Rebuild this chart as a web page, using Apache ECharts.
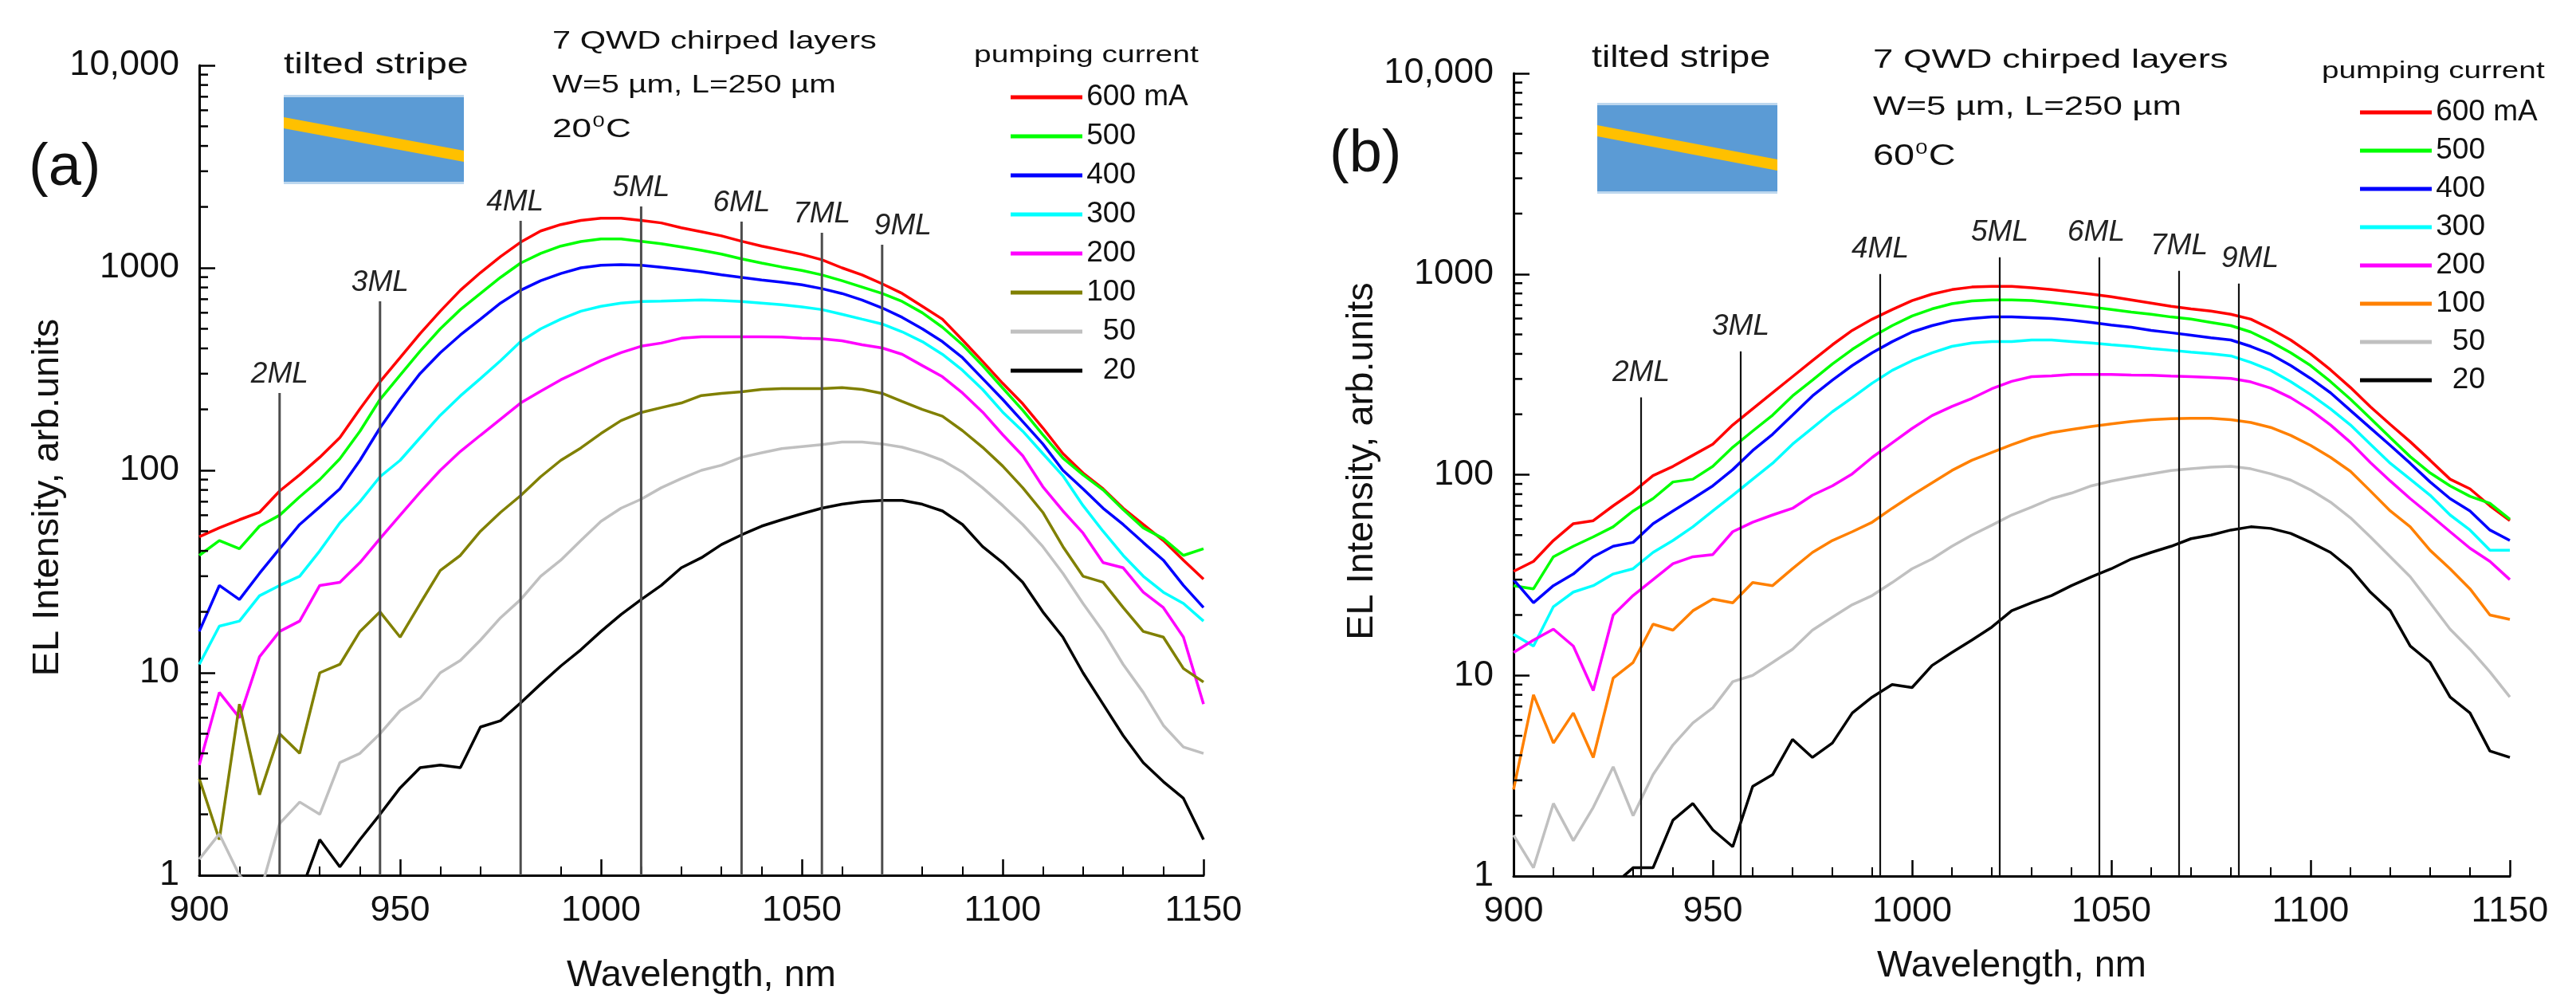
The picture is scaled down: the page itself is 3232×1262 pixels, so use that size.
<!DOCTYPE html>
<html>
<head>
<meta charset="utf-8">
<script src="https://cdn.jsdelivr.net/npm/echarts@6/dist/echarts.min.js"></script>
<style>
  html, body { margin: 0; padding: 0; background: #fff; }
  #main { width: 3232px; height: 1262px; }
</style>
</head>
<body>
<div id="main"></div>
<script>
// wavelength grid, nm
var wavelength = [900, 905, 910, 915, 920, 925, 930, 935, 940, 945, 950, 955, 960, 965, 970, 975, 980, 985, 990, 995,
  1000, 1005, 1010, 1015, 1020, 1025, 1030, 1035, 1040, 1045, 1050, 1055, 1060, 1065, 1070, 1075, 1080, 1085, 1090, 1095,
  1100, 1105, 1110, 1115, 1120, 1125, 1130, 1135, 1140, 1145, 1150];

var currents = ['600', '500', '400', '300', '200', '100', '50', '20'];

// (a) 20 C
var a600 = [47, 52, 57, 62, 79, 95, 116, 145, 201, 274, 360, 474, 611, 775, 947, 1136, 1339, 1521, 1636, 1715, 1759, 1759, 1715, 1667, 1578, 1507, 1439, 1353, 1281, 1222, 1165, 1096, 1000, 923, 834, 747, 646, 558, 440, 345, 269, 213, 162, 121, 97, 81, 65, 54, 45, 36, 29];
var a500 = [38, 45, 41, 53, 60, 74, 90, 114, 156, 224, 295, 388, 500, 622, 747, 897, 1056, 1178, 1281, 1349, 1388, 1388, 1353, 1315, 1268, 1220, 1169, 1107, 1056, 1010, 971, 923, 864, 804, 747, 682, 600, 509, 417, 329, 255, 198, 150, 115, 95, 80, 64, 52, 46, 38, 41];
var a400 = [16, 27, 23, 31, 41, 54, 66, 81, 112, 162, 224, 301, 381, 466, 558, 670, 775, 864, 937, 1000, 1030, 1037, 1030, 1007, 982, 955, 923, 897, 871, 849, 825, 789, 747, 694, 634, 569, 500, 432, 360, 284, 224, 174, 135, 100, 81, 65, 54, 44, 36, 27, 21];
var a300 = [11, 17, 18, 24, 27, 30, 40, 55, 70, 93, 112, 145, 187, 233, 284, 348, 432, 500, 558, 611, 646, 670, 682, 685, 690, 694, 690, 682, 670, 658, 641, 622, 590, 558, 528, 483, 432, 374, 312, 251, 194, 156, 121, 94, 67, 50, 38, 30, 25, 22, 18];
var a200 = [3.5, 8, 6, 12, 16, 18, 27, 28, 35, 46, 60, 78, 100, 124, 149, 179, 215, 246, 280, 312, 348, 381, 410, 425, 449, 457, 457, 457, 457, 455, 449, 446, 436, 417, 402, 374, 329, 290, 241, 194, 150, 118, 83, 63, 49, 35, 33, 25, 21, 15, 7];
var a100 = [3, 1.5, 7, 2.5, 5, 4, 10, 11, 16, 20, 15, 22, 32, 38, 50, 62, 75, 93, 112, 129, 152, 176, 193, 204, 215, 234, 240, 244, 251, 253, 253, 253, 256, 251, 240, 219, 200, 185, 157, 130, 105, 82, 62, 42, 30, 28, 21, 16, 15, 10.5, 9];
var a50 = [1.2, 1.6, 1.0, 0.8, 1.8, 2.3, 2.0, 3.6, 4.0, 5.0, 6.5, 7.5, 10, 11.5, 14.5, 18.7, 23, 30, 36, 45, 56, 65, 72, 82, 91, 100, 106, 116, 122, 128, 131, 134, 138, 138, 135, 130, 122, 112, 98, 82, 67, 54, 42, 31, 22, 16, 11, 8, 5.5, 4.3, 4];
var a20 = [0.5, 0.5, 0.5, 0.5, 0.6, 0.8, 1.5, 1.1, 1.5, 2.0, 2.7, 3.4, 3.5, 3.4, 5.4, 5.8, 7.1, 8.8, 10.8, 13, 16, 19.4, 23, 27, 33, 37, 43, 48, 53, 57, 61, 65, 68, 70, 71, 71, 68, 63, 54, 42, 35, 28, 20, 15, 10, 7, 4.9, 3.6, 2.9, 2.4, 1.5];

// (b) 60 C
var b600 = [33, 37, 47, 57, 59, 70, 82, 99, 110, 125, 142, 177, 213, 256, 308, 370, 444, 524, 596, 665, 737, 794, 836, 861, 867, 867, 854, 836, 815, 794, 771, 743, 716, 690, 670, 653, 630, 596, 533, 469, 400, 333, 272, 218, 178, 146, 118, 95, 85, 70, 59];
var b500 = [28, 27, 39, 44, 49, 55, 66, 76, 92, 95, 110, 137, 165, 198, 247, 296, 356, 421, 487, 553, 618, 670, 711, 735, 743, 743, 737, 721, 703, 685, 666, 646, 630, 611, 596, 574, 553, 514, 460, 405, 350, 291, 238, 191, 153, 123, 102, 88, 78, 72, 60];
var b400 = [30, 23, 28, 32, 39, 44, 46, 57, 66, 76, 88, 106, 132, 159, 198, 247, 296, 350, 405, 460, 514, 553, 585, 600, 611, 611, 606, 600, 589, 574, 557, 543, 524, 510, 496, 481, 469, 436, 398, 350, 302, 256, 209, 171, 140, 114, 92, 76, 66, 53, 47];
var b300 = [16, 14, 22, 26, 28, 32, 34, 41, 47, 55, 66, 79, 95, 114, 142, 171, 206, 242, 286, 331, 370, 405, 436, 453, 461, 461, 469, 469, 461, 453, 444, 436, 425, 417, 408, 401, 391, 363, 331, 291, 251, 213, 177, 142, 114, 95, 79, 63, 53, 42, 42];
var b200 = [13, 15, 17, 14, 8.4, 20, 25, 30, 36, 39, 40, 52, 58, 63, 68, 79, 88, 101, 122, 144, 170, 197, 219, 240, 268, 292, 308, 311, 316, 316, 316, 314, 313, 310, 308, 305, 302, 290, 270, 242, 210, 177, 145, 115, 93, 76, 63, 52, 43, 37, 30];
var b100 = [2.7, 8, 4.6, 6.5, 3.9, 9.7, 11.6, 18, 16.8, 21, 24, 23, 29, 28, 34, 41, 47, 52, 58, 68, 79, 91, 105, 118, 129, 141, 153, 162, 168, 174, 179, 184, 188, 190, 191, 191, 188, 182, 172, 157, 140, 122, 104, 83, 66, 55, 42, 34, 27, 20, 19];
var b50 = [1.6, 1.1, 2.3, 1.5, 2.2, 3.5, 2.0, 3.2, 4.5, 5.8, 6.9, 9.3, 10, 11.6, 13.5, 16.8, 19.5, 22.5, 25, 29, 34, 38, 44, 50, 56, 63, 69, 76, 81, 88, 93, 97, 101, 105, 107, 109, 110, 107, 101, 94, 84, 73, 61, 49, 39, 31, 23, 17, 13.5, 10.4, 7.8];
var b20 = [0.5, 0.5, 0.5, 0.5, 0.8, 0.9, 1.1, 1.1, 1.9, 2.3, 1.7, 1.4, 2.8, 3.2, 4.8, 3.9, 4.6, 6.5, 7.8, 9.0, 8.7, 11.2, 13, 15, 17.4, 21, 23, 25, 28, 31, 34, 38, 41, 44, 48, 50, 53, 55, 54, 51, 46, 41, 34, 26, 21, 14, 11.6, 7.8, 6.5, 4.2, 3.9];

// monolayer markers: wavelength and top of the vertical line
var mlNames = ['2ML', '3ML', '4ML', '5ML', '6ML', '7ML', '9ML'];
var mlWaveA = [920, 945, 980, 1010, 1035, 1055, 1070];
var mlTopA = [241, 684, 1706, 2011, 1690, 1489, 1300];
var mlWaveB = [932, 957, 992, 1022, 1047, 1067, 1082];
var mlTopB = [243, 412, 1000, 1211, 1211, 1038, 896];

var yMinorTicks = [2, 3, 4, 5, 6, 7, 8, 9, 20, 30, 40, 50, 60, 70, 80, 90,
  200, 300, 400, 500, 600, 700, 800, 900, 2000, 3000, 4000, 5000, 6000, 7000, 8000, 9000];

var colorsA = ['#ff0000', '#00ff00', '#0000ff', '#00ffff', '#ff00ff', '#808000', '#c0c0c0', '#000000'];
var colorsB = ['#ff0000', '#00ff00', '#0000ff', '#00ffff', '#ff00ff', '#ff8000', '#c0c0c0', '#000000'];

var FONT = 'Arial, "Liberation Sans", sans-serif';
var X_MIN = 900, X_MAX = 1150, Y_MIN = 1, Y_MAX = 10000;

var chart = echarts.init(document.getElementById('main'));

function curveSeries(prefix, arrays, colors, idx) {
  return currents.map(function (c, i) {
    return {
      name: prefix + c,
      type: 'line',
      xAxisIndex: idx,
      yAxisIndex: idx,
      showSymbol: false,
      symbol: 'none',
      clip: true,
      animation: false,
      lineStyle: { color: colors[i], width: 3.5 },
      itemStyle: { color: colors[i] },
      data: wavelength.map(function (w, k) { return [w, arrays[i][k]]; })
    };
  });
}

// vertical ML lines with italic labels
function mlSeries(waves, tops, idx, labelShift, gap, lineColor, lineWidth) {
  return {
    type: 'custom',
    xAxisIndex: idx,
    yAxisIndex: idx,
    silent: true,
    clip: false,
    z: 20,
    encode: { x: 0, y: 1 },
    data: waves.map(function (w, i) { return [w, tops[i]]; }),
    renderItem: function (params, api) {
      var name = mlNames[params.dataIndex];
      var p0 = api.coord([api.value(0), Y_MIN]);
      var p1 = api.coord([api.value(0), api.value(1)]);
      return {
        type: 'group',
        children: [
          { type: 'line', shape: { x1: p0[0], y1: p0[1], x2: p1[0], y2: p1[1] },
            style: { stroke: lineColor, lineWidth: lineWidth } },
          { type: 'text', x: p1[0] + (labelShift[name] || 0), y: p1[1] - gap,
            style: { text: name, fontSize: 37, fontStyle: 'italic', fontFamily: FONT, fill: '#222',
                     align: 'center', verticalAlign: 'middle' } }
        ]
      };
    }
  };
}

// log minor ticks (2..9 per decade), drawn inward from the y axis
function minorTickSeries(idx) {
  return {
    type: 'custom',
    xAxisIndex: idx,
    yAxisIndex: idx,
    silent: true,
    clip: false,
    z: 30,
    encode: { x: 0, y: 1 },
    data: yMinorTicks.map(function (v) { return [X_MIN, v]; }),
    renderItem: function (params, api) {
      var p = api.coord([api.value(0), api.value(1)]);
      return { type: 'line', shape: { x1: p[0], y1: p[1], x2: p[0] + 11, y2: p[1] },
               style: { stroke: '#000', lineWidth: 2.5 } };
    }
  };
}

function xAxisFor(idx, gap) {
  return {
    type: 'value', gridIndex: idx, min: X_MIN, max: X_MAX, interval: 50,
    name: 'Wavelength, nm', nameLocation: 'middle', nameGap: gap,
    nameTextStyle: { fontSize: 47, fontFamily: FONT, color: '#111' },
    axisLine: { onZero: false, lineStyle: { color: '#000', width: 3 } },
    axisTick: { inside: true, length: 20, lineStyle: { color: '#000', width: 2.5 } },
    minorTick: { show: true, splitNumber: 5, length: 11, lineStyle: { color: '#000', width: 2 } },
    splitLine: { show: false },
    axisLabel: { fontSize: 45, fontFamily: FONT, color: '#111', margin: 22,
                 formatter: function (v) { return String(v); } }
  };
}

function yAxisFor(idx, gap, pad) {
  return {
    type: 'log', logBase: 10, gridIndex: idx, min: Y_MIN, max: Y_MAX,
    name: 'EL Intensity, arb.units', nameLocation: 'middle', nameGap: gap,
    nameTextStyle: { fontSize: 47, fontFamily: FONT, color: '#111', padding: pad },
    axisLine: { show: true, lineStyle: { color: '#000', width: 3 } },
    axisTick: { show: true, inside: true, length: 20, lineStyle: { color: '#000', width: 2.5 } },
    splitLine: { show: false },
    axisLabel: { fontSize: 45, fontFamily: FONT, color: '#111', margin: 25,
                 formatter: function (v) { return v >= 10000 ? '10,000' : String(v); } }
  };
}

function legendFor(prefix, left, top, gap) {
  return {
    orient: 'vertical', left: left, top: top, itemWidth: 90, itemHeight: 5, itemGap: gap,
    icon: 'rect', selectedMode: false,
    data: currents.map(function (c) { return prefix + c; }),
    formatter: function (name) {
      var c = name.slice(1);
      return c === '600' ? '{n|600} mA' : '{n|' + c + '}';
    },
    textStyle: { fontSize: 37, fontFamily: FONT, color: '#111', lineHeight: 40,
                 rich: { n: { fontSize: 37, fontFamily: FONT, color: '#111', width: 62, align: 'right' } } }
  };
}

function label(x, y, text, size, sx, rich) {
  var st = { text: text, fontSize: size, fontFamily: FONT, fill: '#111', align: 'left', verticalAlign: 'middle' };
  if (rich) st.rich = rich;
  return { type: 'text', x: x, y: y, scaleX: sx, silent: true, style: st };
}

function stripePicture(x, y, w, h, yl, yr) {
  return [
    { type: 'rect', shape: { x: x, y: y, width: w, height: h }, style: { fill: '#5b9bd5' } },
    { type: 'rect', shape: { x: x, y: y - 2, width: w, height: 3 }, style: { fill: '#bdd7ee' } },
    { type: 'rect', shape: { x: x, y: y + h - 1, width: w, height: 3 }, style: { fill: '#bdd7ee' } },
    { type: 'polygon', shape: { points: [[x, yl], [x + w, yr], [x + w, yr + 14], [x, yl + 14]] },
      style: { fill: '#ffc000' } }
  ];
}

var supRich = { s: { fontSize: 21, fontFamily: FONT, fill: '#111', verticalAlign: 'bottom', padding: [0, 1, 20, 1] } };

var graphics = [].concat(
  [
    label(36, 212, '(a)', 74, 1),
    label(356, 82, 'tilted stripe', 36, 1.33),
    label(693, 52, '7 QWD chirped layers', 32, 1.3),
    label(693, 107, 'W=5 \u00b5m, L=250 \u00b5m', 32, 1.26),
    label(693, 163, '20{s|0}C', 34, 1.3, supRich),
    label(1222, 70, 'pumping current', 30, 1.3),
    label(1668, 195, '(b)', 74, 1),
    label(1997, 74, 'tilted stripe', 38, 1.22),
    label(2350, 76, '7 QWD chirped layers', 34, 1.34),
    label(2350, 135, 'W=5 \u00b5m, L=250 \u00b5m', 34, 1.29),
    label(2350, 197, '60{s|0}C', 36, 1.3, supRich),
    label(2913, 90, 'pumping current', 30, 1.29)
  ],
  stripePicture(356, 121, 226, 108, 147, 189),
  stripePicture(2004, 131, 226, 110, 157, 200)
);

var option = {
  backgroundColor: '#fff',
  animation: false,
  textStyle: { fontFamily: FONT },
  grid: [
    { left: 250, top: 82, width: 1260, height: 1016 },
    { left: 1899, top: 92, width: 1250, height: 1007 }
  ],
  xAxis: [xAxisFor(0, 103), xAxisFor(1, 90)],
  yAxis: [yAxisFor(0, 150, [0, 68, 0, 0]), yAxisFor(1, 131, [0, 0, 0, 34])],
  legend: [legendFor('a', 1263, 97, 9), legendFor('b', 2956, 116, 8)],
  graphic: graphics,
  series: [].concat(
    curveSeries('a', [a600, a500, a400, a300, a200, a100, a50, a20], colorsA, 0),
    curveSeries('b', [b600, b500, b400, b300, b200, b100, b50, b20], colorsB, 1),
    [
      mlSeries(mlWaveA, mlTopA, 0, { '4ML': -7, '9ML': 26 }, 23, '#4d4d4d', 3),
      mlSeries(mlWaveB, mlTopB, 1, { '6ML': -4, '9ML': 14 }, 31, '#111', 2.2),
      minorTickSeries(0),
      minorTickSeries(1)
    ]
  )
};

chart.setOption(option);
</script>
</body>
</html>
